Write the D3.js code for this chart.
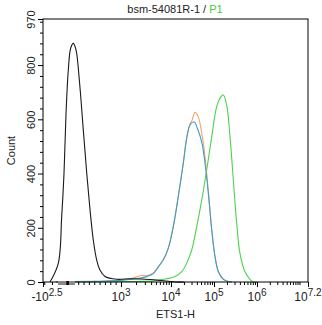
<!DOCTYPE html>
<html>
<head>
<meta charset="utf-8">
<script src="https://cdn.jsdelivr.net/npm/d3@7"></script>
<style>
  html, body { margin: 0; padding: 0; background: #fff; }
  svg { display: block; font-family: "Liberation Sans", Arial, sans-serif; }
  .domain { display: none; }
</style>
</head>
<body>
<svg id="chart" width="322" height="325"></svg>
<script>
// Histogram overlays: fluorescence intensity (ETS1-H) vs event count
const blackX = [-226, -119, -75, -45, -19, 15, 60, 108, 159, 221, 295, 359, 421, 482, 546, 607, 701, 920, 1514, 2500, 3800, 6000, 9000, 12400, 20000];
const blackY = [0, 69, 241, 402, 623, 782, 863, 880, 856, 745, 561, 402, 266, 155, 81, 44, 20, 10, 12, 11, 9, 6, 3, 0, 0];

const orangeX = [-150, 0, 300, 600, 981, 1500, 2061, 2600, 3200, 4426, 5570, 7015, 8830, 11310, 14790, 19320, 23170, 27680, 31000, 35900, 42800, 51800, 61800, 73800, 88500, 105500, 126000, 164400, 197000, 260000];
const orangeY = [0, 1, 3, 2, 6, 12, 19, 24, 23, 33, 56, 83, 126, 206, 318, 440, 532, 583, 597, 626, 610, 550, 462, 335, 195, 95, 40, 11, 4, 0];

const blueX = [-150, 0, 300, 600, 981, 1500, 2061, 3000, 4426, 5570, 7015, 8830, 11310, 14790, 19320, 23170, 27680, 34280, 40930, 51800, 61800, 73800, 88500, 105500, 126000, 164400, 197000, 260000];
const blueY = [0, 2, 1, 3, 6, 9, 12, 18, 31, 56, 81, 124, 204, 315, 438, 530, 579, 591, 567, 517, 438, 327, 192, 93, 38, 10, 4, 0];

const greenX = [-150, 0, 500, 981, 2000, 4426, 8200, 12390, 17750, 23170, 30330, 39630, 51800, 67650, 88500, 115500, 138000, 164400, 197000, 235700, 281500, 337400, 402700, 526400, 687000, 820000, 1000000];
const greenY = [0, 1, 1, 2, 2, 4, 12, 20, 38, 69, 118, 204, 302, 413, 536, 647, 678, 690, 653, 536, 376, 216, 105, 38, 10, 0, 0];

const seriesColors = ["#f2a46a", "#3a9fc9", "#4fd24f", "#1a1a1a"];

const yTicks = [0, 200, 400, 600, 800, 970];
const yMax = 970;
const xTickExps = [2.5, 3, 4, 5, 6, 7.2];
const xTickSigns = [-1, 1, 1, 1, 1, 1];
const zeroBand = [-123, 140];
const zeroMark = [-15, 25];

const titleMain = "bsm-54081R-1 / ";
const titleGate = "P1";
const xTitle = "ETS1-H";
const yTitle = "Count";

// Layout
const W = 322, H = 325;
const plotL = 43, plotR = 308, plotT = 19, plotB = 282;
const pw = plotR - plotL;

// Display transform: linear near zero, logarithmic above 10^3
const tr = v => v > 1000 ? Math.log10(v) : (v / 1000) * 3;
const anchorVals = [-Math.pow(10, 2.5), 0, 1e3, 1e4, 1e5, 1e6, Math.pow(10, 7.2)];
const anchorFrac = [0, 0.0925, 0.2943, 0.4830, 0.6453, 0.8075, 1];
const lin = d3.scaleLinear()
  .domain(anchorVals.map(tr))
  .range(anchorFrac.map(f => plotL + f * pw));
const x = v => lin(tr(v));

const y = d3.scaleLinear().domain([0, yMax]).range([plotB, plotT]);

const svg = d3.select("#chart");

// Curves (green and orange below, blue, then black on top)
const line = d3.line().x(d => x(d[0])).y(d => y(d[1])).curve(d3.curveCatmullRom.alpha(0.5));
const series = [
  [greenX, greenY, seriesColors[2]],
  [orangeX, orangeY, seriesColors[0]],
  [blueX, blueY, seriesColors[1]],
  [blackX, blackY, seriesColors[3]]
];
series.forEach(([xs, ys, c]) => {
  svg.append("path")
    .attr("d", line(xs.map((v, j) => [v, ys[j]])))
    .attr("fill", "none")
    .attr("stroke", c)
    .attr("stroke-width", 1.1);
});

// Frame
svg.append("rect")
  .attr("x", plotL).attr("y", plotT)
  .attr("width", pw).attr("height", plotB - plotT)
  .attr("fill", "none").attr("stroke", "#000").attr("stroke-width", 1);

// Y axis major + minor ticks
const yMinor = d3.range(0, yMax + 1, 40).filter(v => yTicks.indexOf(v) < 0);
svg.append("g").attr("transform", `translate(${plotL},0)`)
  .call(d3.axisLeft(y).tickValues(yMinor).tickSize(3).tickFormat(""))
  .call(g => g.selectAll("line").attr("stroke", "#000"));
const gy = svg.append("g").attr("transform", `translate(${plotL},0)`)
  .call(d3.axisLeft(y).tickValues(yTicks).tickSize(5).tickFormat(""))
  .call(g => g.selectAll("line").attr("stroke", "#000"));
gy.selectAll(".tick").append("text")
  .attr("transform", "translate(-8,0) rotate(-90)")
  .attr("text-anchor", "middle")
  .attr("fill", "#222")
  .attr("font-size", 11)
  .text(d => d);

// X axis ticks
const majorT = xTickExps.map((e, i) => tr(xTickSigns[i] * Math.pow(10, e)));
const minorVals = [-300, -200, -100, 100, 200, 300, 400, 500, 600, 700, 800, 900];
[3, 4, 5, 6].forEach(e => { for (let k = 2; k <= 9; k++) minorVals.push(k * Math.pow(10, e)); });
minorVals.push(1e7);
svg.append("g").attr("transform", `translate(0,${plotB})`)
  .call(d3.axisBottom(lin).tickValues(minorVals.map(tr).filter(t => t <= 7.2)).tickSize(3).tickFormat(""))
  .call(g => g.selectAll("line").attr("stroke", "#000"));
svg.append("g").attr("transform", `translate(0,${plotB})`)
  .call(d3.axisBottom(lin).tickValues(majorT).tickSize(5).tickFormat(""))
  .call(g => g.selectAll("line").attr("stroke", "#000"));

// Zero band marker on the axis
svg.append("rect")
  .attr("x", x(zeroBand[0])).attr("y", plotB - 1)
  .attr("width", x(zeroBand[1]) - x(zeroBand[0])).attr("height", 4)
  .attr("fill", "#8a8a8a");
svg.append("rect")
  .attr("x", x(zeroMark[0])).attr("y", plotB - 1)
  .attr("width", x(zeroMark[1]) - x(zeroMark[0])).attr("height", 4)
  .attr("fill", "#000");

// X tick labels as powers of ten
xTickExps.forEach((e, i) => {
  const t = svg.append("text")
    .attr("x", lin(majorT[i]) + (i === 0 ? 4 : 0))
    .attr("y", 301)
    .attr("text-anchor", "middle")
    .attr("fill", "#222")
    .attr("font-size", 12);
  t.append("tspan").text((xTickSigns[i] < 0 ? "-" : "") + "10");
  t.append("tspan").attr("dy", -5).attr("font-size", 10).text(String(e));
});

// Titles
const title = svg.append("text")
  .attr("x", 175).attr("y", 13)
  .attr("text-anchor", "middle")
  .attr("font-size", 11)
  .attr("fill", "#222");
title.append("tspan").text(titleMain);
title.append("tspan").attr("fill", "#3dcc3d").text(titleGate);

svg.append("text")
  .attr("x", (plotL + plotR) / 2).attr("y", 318)
  .attr("text-anchor", "middle")
  .attr("font-size", 11)
  .attr("fill", "#222")
  .text(xTitle);

svg.append("text")
  .attr("transform", `translate(15,${(plotT + plotB) / 2}) rotate(-90)`)
  .attr("text-anchor", "middle")
  .attr("font-size", 11)
  .attr("fill", "#222")
  .text(yTitle);
</script>
</body>
</html>
